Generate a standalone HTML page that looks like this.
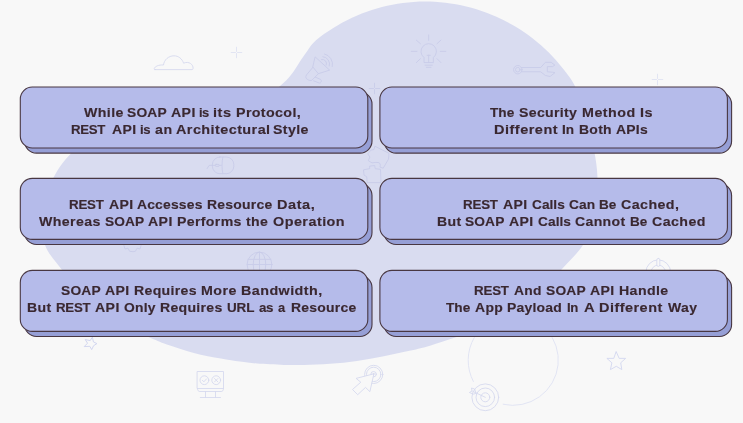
<!DOCTYPE html>
<html><head><meta charset="utf-8"><title>SOAP vs REST API</title>
<style>
html,body{margin:0;padding:0;background:#f8f8f8;}
#c{position:relative;width:743px;height:423px;overflow:hidden;background:#f8f8f8;font-family:"Liberation Sans",sans-serif;}
svg{position:absolute;left:0;top:0;}
#T{position:absolute;left:0;top:0;width:743px;height:423px;will-change:transform;}
.t{position:absolute;white-space:nowrap;font-weight:bold;font-size:13.6px;line-height:20px;height:20px;color:#3a2831;transform-origin:0 0;-webkit-text-stroke:0.15px #3a2831;}

</style></head><body>
<div id="c">
<svg width="743" height="423" viewBox="0 0 743 423">
<rect width="743" height="423" fill="#f8f8f8"/>
<path d="M316.0 40.3 C320.3 36.5 327.3 31.7 333.3 28.0 C339.3 24.2 345.6 20.8 352.0 17.8 C358.4 14.9 365.1 12.3 371.8 10.1 C378.5 7.9 385.4 6.1 392.4 4.8 C399.3 3.4 406.4 2.5 413.5 2.0 C420.5 1.5 427.7 1.5 434.7 1.8 C441.8 2.2 448.9 3.0 455.9 4.3 C462.8 5.5 469.8 7.2 476.5 9.2 C483.3 11.3 490.0 13.8 496.4 16.7 C502.9 19.6 509.2 22.9 515.3 26.5 C521.4 30.1 527.3 34.2 532.8 38.5 C538.4 42.9 543.8 47.6 548.8 52.6 C553.8 57.6 558.5 63.0 562.9 68.5 C567.2 74.1 571.1 78.3 574.9 86.1 C578.8 93.8 583.0 105.2 586.0 115.0 C589.0 124.8 591.2 135.8 593.0 145.0 C594.8 154.2 596.3 161.7 597.0 170.0 C597.7 178.3 597.8 186.3 597.0 195.0 C596.2 203.7 594.3 213.7 592.0 222.0 C589.7 230.3 588.0 237.2 583.0 245.0 C578.0 252.8 569.2 261.2 562.0 269.0 C554.8 276.8 547.8 284.8 540.0 292.0 C532.2 299.2 523.8 306.2 515.0 312.0 C506.2 317.8 496.9 322.8 487.0 327.0 C477.1 331.2 465.4 334.2 455.9 337.3 C446.4 340.4 437.5 343.5 430.0 345.7 C422.5 347.9 418.5 348.8 410.8 350.5 C403.1 352.2 392.8 354.5 383.8 356.2 C374.8 357.9 366.0 359.6 357.0 360.9 C348.0 362.2 338.8 363.1 330.0 363.8 C321.2 364.5 311.7 364.7 304.0 364.9 C296.3 365.1 291.6 365.1 283.8 364.9 C276.0 364.7 264.3 364.2 257.0 363.6 C249.7 363.1 246.0 362.5 240.0 361.6 C234.0 360.8 228.5 359.9 220.8 358.5 C213.1 357.1 202.8 355.2 193.8 352.9 C184.8 350.6 174.5 347.1 166.9 344.5 C159.3 341.9 156.3 340.2 148.5 337.0 C140.7 333.8 128.9 329.7 120.0 325.0 C111.1 320.3 102.3 314.8 95.0 309.0 C87.7 303.2 81.5 296.5 76.0 290.0 C70.5 283.5 67.2 277.5 62.0 270.0 C56.8 262.5 48.5 254.7 45.0 245.0 C41.5 235.3 39.6 223.2 41.0 212.0 C42.4 200.8 48.2 187.8 53.3 178.0 C58.4 168.2 63.7 160.7 71.5 153.0 C79.3 145.3 88.6 137.8 100.0 132.0 C111.4 126.2 125.0 121.3 140.0 118.0 C155.0 114.7 173.3 114.3 190.0 112.0 C206.7 109.7 227.5 106.7 240.0 104.0 C252.5 101.3 258.2 99.1 265.0 96.0 C271.8 92.9 276.2 89.1 280.6 85.5 C285.0 81.9 288.1 78.5 291.3 74.5 C294.5 70.5 297.1 65.7 299.8 61.7 C302.5 57.7 304.9 54.0 307.6 50.4 C310.3 46.8 311.7 44.0 316.0 40.3Z" fill="#d9dcf0"/>

<g fill="none" stroke="#d6d9ee" stroke-width="0.9" stroke-linecap="round" stroke-linejoin="round">
<!-- cloud -->
<path d="M155.2 69.6H192a1.2 1.2 0 0 0 1.1-1.2C193.3 64.5 189 60.8 183.6 63.2C182 58.6 178.400 55.8 174 55.8C168.5 55.8 164 60 163.500 65C158.500 64.6 154.900 66.5 154.2 68.6a0.800 0.800 0 0 0 1 1Z"/>
<path d="M231.2 52.5H235.5M237.5 52.5H241.8M236.5 47.2V51.5M236.5 53.5V57.8" stroke="#dfe2f2"/>
<path d="M652.2 79.5H656.5M658.5 79.5H662.8M657.5 74.2V78.5M657.5 80.5V84.8" stroke="#dfe2f2"/>
<!-- star small rotated -->
<path d="M92.5 337.5L93.4 341.9L96.9 343.600L93.6 345.7L91.7 349.6L89.800 346.300L84.2 346.600L87.5 343.2L85.2 339.500L89.800 340.5Z" stroke="#ced3ee"/>
<!-- monitor -->
<rect x="197.5" y="371.5" width="26" height="17"/>
<path d="M197.5 388.5C197.5 390.600 198.500 391.500 199.8 391.500H221.200C222.500 391.500 223.500 390.600 223.500 388.500M205.500 391.500V397.500M215.500 391.500V397.500M200.300 397.500H220.500"/>
<circle cx="204.4" cy="380.2" r="4.4"/><circle cx="216.200" cy="380.200" r="4.400"/>
<path d="M202.400 380.300L203.900 381.800L206.500 378.900M214.500 378.500L217.900 381.900M217.900 378.500L214.500 381.900"/>
<!-- click -->
<circle cx="373.7" cy="374.4" r="9.100"/><circle cx="373.7" cy="374.4" r="7.200"/><circle cx="373.6" cy="374.2" r="2.700"/>
<path d="M373.5 373.900L356.100 378.400L360.800 382.200L352.500 389.500L357.700 394.700L365.500 387.400L369.600 391.400Z" fill="#f8f8f8"/>
<circle cx="373.5" cy="373.900" r="0.5"/>
<!-- big arc -->
<path d="M473.4 381.5A45.2 45.2 0 0 1 512.5 315A45.2 45.2 0 1 1 503.2 404.3" stroke="#dfe2f3"/>
<!-- target -->
<circle cx="485.3" cy="397.3" r="13.4"/><circle cx="485.3" cy="397.3" r="9.3"/><circle cx="485.3" cy="397.3" r="4.5"/>
<path d="M485.300 397.300L472.800 391.400M476.000 393.000L474.500 389.000L471.500 388.000L472.000 391.000L469.400 392.500L473.000 394.000Z"/>
<!-- star upright -->
<path d="M616.3 351.9L619.2 358.400L625.600 358.400L620.700 362.800L621.800 369.600L616.300 366.300L610.400 369.600L611.900 362.800L606.900 358.400L613.400 358.400Z" stroke="#d3d7ef"/>
<!-- power -->
<circle cx="658.3" cy="272.3" r="12.4"/><circle cx="658.300" cy="272.300" r="7.200"/>
<rect x="656.8" y="258.4" width="3" height="8" rx="1.5" fill="#f8f8f8"/>
</g>
<g fill="none" stroke="#c8cce9" stroke-width="0.9" stroke-linecap="round" stroke-linejoin="round">
<path d="M369.2 88.5H373.5M375.5 88.5H379.8M374.5 83.2V87.5M374.5 89.5V93.8" stroke="#c8cce9"/>
<!-- megaphone -->
<path d="M315.4 57.1L329.600 70.100L318.400 73.700L313 67.200ZM313 67.200L306.500 74.900C305.200 76.700 305.800 78.700 307.700 79.600C309.200 80.500 310.700 80.800 311.900 80.200L318.400 73.700M315.400 77.200L320.300 79.300C321.400 79.800 321.600 80.800 321.200 81.700C320.800 82.800 320 83.400 318.900 82.900L313.600 80.800"/>
<path d="M321.5 59.5A4.200 4.200 0 0 1 326.200 65.200M322.800 56.700A7.200 7.200 0 0 1 329.300 66M324.500 54A10.300 10.300 0 0 1 332.300 66.500"/>
<!-- bulb -->
<path d="M424 62.200V57.500A7.700 7.700 0 1 1 433.400 57.500V62.200ZM425.100 65.200H432.200M426.300 67.300H431M428.700 55.100V62.200M427.200 55.400H430.200"/>
<path d="M428.700 35V40.400M411.300 51.400H416.900M440.300 51.400H445.800M416.300 40.100L420.400 43.700M440.900 40.100L437 43.700M416.300 62.600L420.400 58.700M440.900 62.600L437 58.700"/>
<!-- wrench -->
<circle cx="517.8" cy="69.7" r="4.2"/><circle cx="517.800" cy="69.700" r="2.300"/>
<path d="M521.500 67.500H540.700L545.400 62.300H551.100L554.900 65.100L552.500 66.600H547.300V71.800L552.500 72.200L554.900 72.700L550.100 76.500L545.400 75.500L540.700 71.800H521.500"/>
<!-- mouse -->
<rect x="212.4" y="157" width="21.4" height="16.7" rx="7.500"/>
<path d="M222.900 157C221.700 162 221.700 168.700 222.900 173.700M212.400 165.400H221.300M212.400 165.400H209.100L207.100 168.600"/>
<rect x="215.2" y="164.4" width="4" height="2" rx="1" fill="#d9dcf0"/>
<!-- puzzle -->
<path d="M375.200 146.400L389 153.300L388.500 159.100L383.200 168.200L380 167.100C381 164 379.500 162.500 378 162.500C376 162.200 374.500 162.500 372 162.900L368.300 160.700L369.900 157L367.800 153.800L371 150.100L373.600 149.600Z"/>
<path d="M369.900 166.100L374.700 165.500L375.200 168.700L380.500 169.300L381 182.600H367.200L366.700 176.700L364 175.100L363.500 169.800L369.400 168.700Z"/>
<!-- gear -->
<path d="M123.800 245L125 249L128 248.200L129.600 251.300L133 251.700L135.400 251.300L137 248.200L140 249L141.200 245" />
<!-- globe -->
<circle cx="259.5" cy="264.500" r="12.400"/>
<ellipse cx="259.500" cy="264.500" rx="6.300" ry="12.400"/>
<path d="M259.500 252.100V277M247.100 264.500H271.900M248.200 259.400H270.800"/>
</g>

<rect x="24.5" y="92.1" width="347.5" height="61" rx="12" fill="#969fd6" stroke="#483742" stroke-width="1.1"/>
<rect x="20.3" y="87.0" width="347.5" height="61" rx="12" fill="#b5bbea" stroke="#483742" stroke-width="1.1"/>
<rect x="384.09999999999997" y="92.1" width="347.5" height="61" rx="12" fill="#969fd6" stroke="#483742" stroke-width="1.1"/>
<rect x="379.9" y="87.0" width="347.5" height="61" rx="12" fill="#b5bbea" stroke="#483742" stroke-width="1.1"/>
<rect x="24.5" y="183.5" width="347.5" height="61" rx="12" fill="#969fd6" stroke="#483742" stroke-width="1.1"/>
<rect x="20.3" y="178.4" width="347.5" height="61" rx="12" fill="#b5bbea" stroke="#483742" stroke-width="1.1"/>
<rect x="384.09999999999997" y="183.5" width="347.5" height="61" rx="12" fill="#969fd6" stroke="#483742" stroke-width="1.1"/>
<rect x="379.9" y="178.4" width="347.5" height="61" rx="12" fill="#b5bbea" stroke="#483742" stroke-width="1.1"/>
<rect x="24.5" y="275.5" width="347.5" height="61" rx="12" fill="#969fd6" stroke="#483742" stroke-width="1.1"/>
<rect x="20.3" y="270.4" width="347.5" height="61" rx="12" fill="#b5bbea" stroke="#483742" stroke-width="1.1"/>
<rect x="384.09999999999997" y="275.5" width="347.5" height="61" rx="12" fill="#969fd6" stroke="#483742" stroke-width="1.1"/>
<rect x="379.9" y="270.4" width="347.5" height="61" rx="12" fill="#b5bbea" stroke="#483742" stroke-width="1.1"/>

</svg>
<div id="T">
<div class="ln"><span class="t" style="left:83.80px;top:103px;letter-spacing:0.379px;transform:scaleX(1.0422)">While</span> <span class="t" style="left:127.19px;top:103px;letter-spacing:0.196px;transform:scaleX(1.0156)">SOAP</span> <span class="t" style="left:171.01px;top:103px;letter-spacing:0.412px;transform:scaleX(1.0380)">API</span> <span class="t" style="left:199.15px;top:103px;letter-spacing:-0.522px;transform:scaleX(0.9484)">is</span> <span class="t" style="left:213.26px;top:103px;letter-spacing:0.492px;transform:scaleX(1.0675)">its</span> <span class="t" style="left:235.57px;top:103px;letter-spacing:0.351px;transform:scaleX(1.0488)">Protocol,</span></div>
<div class="ln"><span class="t" style="left:71.12px;top:120px;letter-spacing:-0.315px;transform:scaleX(0.9735)">REST</span> <span class="t" style="left:111.71px;top:120px;letter-spacing:0.340px;transform:scaleX(1.0313)">API</span> <span class="t" style="left:139.84px;top:120px;letter-spacing:-0.365px;transform:scaleX(0.9639)">is</span> <span class="t" style="left:154.61px;top:120px;letter-spacing:0.675px;transform:scaleX(1.0459)">an</span> <span class="t" style="left:175.70px;top:120px;letter-spacing:0.412px;transform:scaleX(1.0598)">Architectural</span> <span class="t" style="left:273.28px;top:120px;letter-spacing:0.343px;transform:scaleX(1.0435)">Style</span></div>
<div class="ln"><span class="t" style="left:490.10px;top:103px;letter-spacing:0.039px;transform:scaleX(1.0033)">The</span> <span class="t" style="left:519.48px;top:103px;letter-spacing:0.299px;transform:scaleX(1.0394)">Security</span> <span class="t" style="left:582.37px;top:103px;letter-spacing:0.469px;transform:scaleX(1.0500)">Method</span> <span class="t" style="left:639.76px;top:103px;letter-spacing:0.584px;transform:scaleX(1.0573)">Is</span></div>
<div class="ln"><span class="t" style="left:494.15px;top:120px;letter-spacing:0.462px;transform:scaleX(1.0671)">Different</span> <span class="t" style="left:562.40px;top:120px;letter-spacing:-0.009px;transform:scaleX(0.9991)">In</span> <span class="t" style="left:579.08px;top:120px;letter-spacing:0.260px;transform:scaleX(1.0263)">Both</span> <span class="t" style="left:616.11px;top:120px;letter-spacing:0.227px;transform:scaleX(1.0230)">APIs</span></div>
<div class="ln"><span class="t" style="left:68.81px;top:195px;letter-spacing:-0.230px;transform:scaleX(0.9806)">REST</span> <span class="t" style="left:109.31px;top:195px;letter-spacing:0.388px;transform:scaleX(1.0358)">API</span> <span class="t" style="left:137.31px;top:195px;letter-spacing:0.186px;transform:scaleX(1.0210)">Accesses</span> <span class="t" style="left:207.38px;top:195px;letter-spacing:0.229px;transform:scaleX(1.0263)">Resource</span> <span class="t" style="left:277.25px;top:195px;letter-spacing:0.537px;transform:scaleX(1.0672)">Data,</span></div>
<div class="ln"><span class="t" style="left:39.20px;top:212px;letter-spacing:0.384px;transform:scaleX(1.0411)">Whereas</span> <span class="t" style="left:104.60px;top:212px;letter-spacing:0.114px;transform:scaleX(1.0091)">SOAP</span> <span class="t" style="left:148.01px;top:212px;letter-spacing:0.412px;transform:scaleX(1.0380)">API</span> <span class="t" style="left:176.57px;top:212px;letter-spacing:0.329px;transform:scaleX(1.0395)">Performs</span> <span class="t" style="left:245.70px;top:212px;letter-spacing:0.368px;transform:scaleX(1.0368)">the</span> <span class="t" style="left:272.80px;top:212px;letter-spacing:0.449px;transform:scaleX(1.0568)">Operation</span></div>
<div class="ln"><span class="t" style="left:462.81px;top:195px;letter-spacing:-0.213px;transform:scaleX(0.9821)">REST</span> <span class="t" style="left:503.11px;top:195px;letter-spacing:0.364px;transform:scaleX(1.0335)">API</span> <span class="t" style="left:531.62px;top:195px;letter-spacing:0.035px;transform:scaleX(1.0044)">Calls</span> <span class="t" style="left:568.92px;top:195px;letter-spacing:0.144px;transform:scaleX(1.0117)">Can</span> <span class="t" style="left:599.30px;top:195px;letter-spacing:-0.048px;transform:scaleX(0.9971)">Be</span> <span class="t" style="left:621.40px;top:195px;letter-spacing:0.405px;transform:scaleX(1.0471)">Cached,</span></div>
<div class="ln"><span class="t" style="left:436.67px;top:212px;letter-spacing:0.393px;transform:scaleX(1.0360)">But</span> <span class="t" style="left:465.39px;top:212px;letter-spacing:0.130px;transform:scaleX(1.0104)">SOAP</span> <span class="t" style="left:508.91px;top:212px;letter-spacing:0.388px;transform:scaleX(1.0358)">API</span> <span class="t" style="left:537.62px;top:212px;letter-spacing:0.060px;transform:scaleX(1.0075)">Calls</span> <span class="t" style="left:574.91px;top:212px;letter-spacing:0.325px;transform:scaleX(1.0350)">Cannot</span> <span class="t" style="left:630.10px;top:212px;letter-spacing:-0.098px;transform:scaleX(0.9940)">Be</span> <span class="t" style="left:651.71px;top:212px;letter-spacing:0.417px;transform:scaleX(1.0435)">Cached</span></div>
<div class="ln"><span class="t" style="left:61.09px;top:281px;letter-spacing:0.180px;transform:scaleX(1.0143)">SOAP</span> <span class="t" style="left:105.41px;top:281px;letter-spacing:0.388px;transform:scaleX(1.0358)">API</span> <span class="t" style="left:133.58px;top:281px;letter-spacing:0.298px;transform:scaleX(1.0366)">Requires</span> <span class="t" style="left:200.57px;top:281px;letter-spacing:0.488px;transform:scaleX(1.0468)">More</span> <span class="t" style="left:240.76px;top:281px;letter-spacing:0.424px;transform:scaleX(1.0531)">Bandwidth,</span></div>
<div class="ln"><span class="t" style="left:26.77px;top:298px;letter-spacing:0.369px;transform:scaleX(1.0338)">But</span> <span class="t" style="left:55.52px;top:298px;letter-spacing:-0.281px;transform:scaleX(0.9763)">REST</span> <span class="t" style="left:95.21px;top:298px;letter-spacing:0.412px;transform:scaleX(1.0380)">API</span> <span class="t" style="left:123.61px;top:298px;letter-spacing:0.194px;transform:scaleX(1.0197)">Only</span> <span class="t" style="left:159.78px;top:298px;letter-spacing:0.284px;transform:scaleX(1.0349)">Requires</span> <span class="t" style="left:226.51px;top:298px;letter-spacing:-0.148px;transform:scaleX(0.9891)">URL</span> <span class="t" style="left:259.12px;top:298px;letter-spacing:-0.291px;transform:scaleX(0.9797)">as</span> <span class="t" style="left:278.13px;top:298px;letter-spacing:0.000px;transform:scaleX(0.9466)">a</span> <span class="t" style="left:290.68px;top:298px;letter-spacing:0.229px;transform:scaleX(1.0263)">Resource</span></div>
<div class="ln"><span class="t" style="left:473.91px;top:281px;letter-spacing:-0.213px;transform:scaleX(0.9821)">REST</span> <span class="t" style="left:514.41px;top:281px;letter-spacing:0.221px;transform:scaleX(1.0174)">And</span> <span class="t" style="left:546.09px;top:281px;letter-spacing:0.180px;transform:scaleX(1.0143)">SOAP</span> <span class="t" style="left:590.41px;top:281px;letter-spacing:0.388px;transform:scaleX(1.0358)">API</span> <span class="t" style="left:618.87px;top:281px;letter-spacing:0.372px;transform:scaleX(1.0420)">Handle</span></div>
<div class="ln"><span class="t" style="left:445.60px;top:298px;letter-spacing:0.039px;transform:scaleX(1.0033)">The</span> <span class="t" style="left:474.81px;top:298px;letter-spacing:0.325px;transform:scaleX(1.0253)">App</span> <span class="t" style="left:507.48px;top:298px;letter-spacing:0.221px;transform:scaleX(1.0262)">Payload</span> <span class="t" style="left:567.32px;top:298px;letter-spacing:-0.314px;transform:scaleX(0.9707)">In</span> <span class="t" style="left:584.09px;top:298px;letter-spacing:0.000px;transform:scaleX(1.0854)">A</span> <span class="t" style="left:599.25px;top:298px;letter-spacing:0.444px;transform:scaleX(1.0645)">Different</span> <span class="t" style="left:667.70px;top:298px;letter-spacing:0.386px;transform:scaleX(1.0280)">Way</span></div>
</div>

</div>
</body></html>
